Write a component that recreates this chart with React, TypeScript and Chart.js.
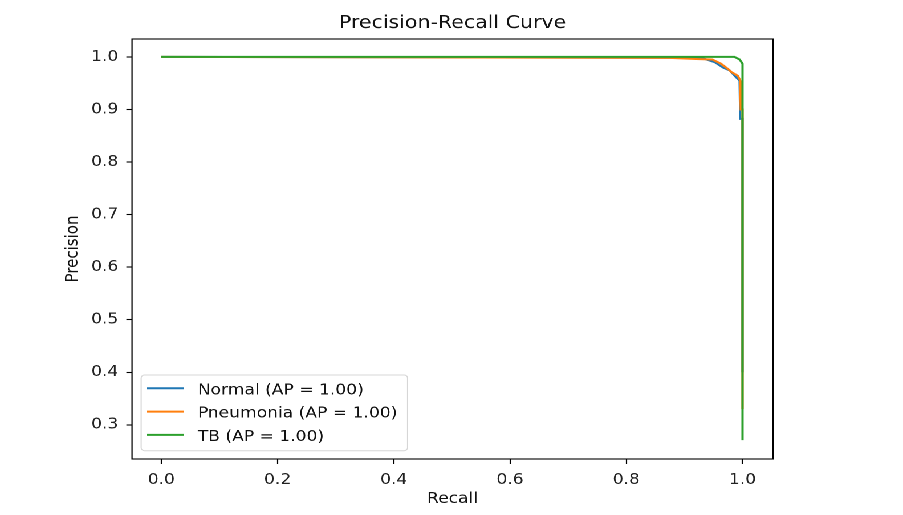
import React, { useRef, useEffect } from 'react';
import { Chart, registerables } from 'chart.js';

Chart.register(...registerables);

// the reference picture is a bit wider than tall in its text, so the chart is drawn
// on a narrower canvas and stretched back out to 903px
const STRETCH = 903 / 792;
const FONT = '"DejaVu Sans", sans-serif';

const chartTitle = 'Precision-Recall Curve';
const xTitle = 'Recall';
const yTitle = 'Precision';

const seriesNames = ['Normal (AP = 1.00)', 'Pneumonia (AP = 1.00)', 'TB (AP = 1.00)'];
const seriesColors = ['#1f77b4', '#ff7f0e', '#2ca02c'];

const normalRecall = [0, 0.93, 0.952, 0.966, 0.978, 0.989, 0.995, 0.996, 1.0, 1.0];
const normalPrecision = [1.0, 0.998, 0.99, 0.98, 0.974, 0.961, 0.955, 0.882, 0.882, 0.4];

const pneumoniaRecall = [0, 0.875, 0.92, 0.948, 0.963, 0.975, 0.981, 0.992, 0.996, 0.997, 1.0, 1.0];
const pneumoniaPrecision = [1.0, 0.998, 0.996, 0.995, 0.987, 0.977, 0.971, 0.964, 0.955, 0.9, 0.9, 0.33];

const tbRecall = [0, 0.986, 0.995, 1.0, 1.0];
const tbPrecision = [1.0, 1.0, 0.995, 0.987, 0.271];

const xTicks = [0, 0.2, 0.4, 0.6, 0.8, 1.0];
const yTicks = [0.3, 0.4, 0.5, 0.6, 0.7, 0.8, 0.9, 1.0];

const toPoints = (xs: number[], ys: number[]) => xs.map((x, i) => ({ x, y: ys[i] }));

const seriesPoints = [
  toPoints(normalRecall, normalPrecision),
  toPoints(pneumoniaRecall, pneumoniaPrecision),
  toPoints(tbRecall, tbPrecision),
];

// title, axes box and the legend in the lower left, drawn the matplotlib way
const framePlugin = {
  id: 'frame',
  afterDraw(chart: any) {
    const { ctx, chartArea: a } = chart;
    ctx.save();

    ctx.fillStyle = '#111';
    ctx.font = `18px ${FONT}`;
    ctx.textAlign = 'center';
    ctx.textBaseline = 'alphabetic';
    ctx.fillText(chartTitle, (a.left + a.right) / 2, 28);

    ctx.strokeStyle = '#000';
    ctx.lineWidth = 1.1;
    ctx.strokeRect(a.left, a.top, a.right - a.left, a.bottom - a.top);

    ctx.font = `15px ${FONT}`;
    const maxW = Math.max(...seriesNames.map((n) => ctx.measureText(n).width));
    const boxLeft = a.left + 8;
    const boxBottom = a.bottom - 8.3;
    const boxTop = boxBottom - 75.7;
    const textX = boxLeft + 49.7;
    const boxW = textX - boxLeft + maxW + 9;

    ctx.beginPath();
    ctx.roundRect(boxLeft, boxTop, boxW, boxBottom - boxTop, 3);
    ctx.fillStyle = 'rgba(255,255,255,0.8)';
    ctx.fill();
    ctx.strokeStyle = '#d6d6d6';
    ctx.lineWidth = 1;
    ctx.stroke();

    seriesNames.forEach((name, i) => {
      const rowY = boxTop + 13.3 + i * 23.3;
      ctx.beginPath();
      ctx.moveTo(boxLeft + 5, rowY);
      ctx.lineTo(boxLeft + 37.7, rowY);
      ctx.strokeStyle = seriesColors[i];
      ctx.lineWidth = 2;
      ctx.stroke();

      ctx.fillStyle = '#111';
      ctx.textAlign = 'left';
      ctx.textBaseline = 'alphabetic';
      ctx.fillText(name, textX, rowY + 6);
    });

    ctx.restore();
  },
};

function PrecisionRecallChart() {
  const chartRef = useRef<HTMLCanvasElement>(null);
  const chartInstance = useRef<Chart | null>(null);

  useEffect(() => {
    const ctx = chartRef.current!.getContext('2d')!;

    if (chartInstance.current) {
      chartInstance.current.destroy();
    }

    chartInstance.current = new Chart(ctx, {
      type: 'scatter',
      data: {
        datasets: seriesNames.map((name, i) => ({
          label: name,
          data: seriesPoints[i],
          showLine: true,
          borderColor: seriesColors[i],
          backgroundColor: seriesColors[i],
          borderWidth: 2,
          pointRadius: 0,
          tension: 0,
          fill: false,
          // later series sit on top, as in the picture
          order: seriesNames.length - i,
        })),
      },
      options: {
        animation: false,
        responsive: true,
        maintainAspectRatio: false,
        devicePixelRatio: 2,
        events: [],
        layout: {
          padding: { top: 39, right: 114, bottom: 0, left: 0 },
        },
        plugins: {
          legend: { display: false },
          tooltip: { enabled: false },
          title: { display: false },
        },
        scales: {
          x: {
            type: 'linear',
            min: -0.0505,
            max: 1.0525,
            afterBuildTicks: (scale: any) => {
              scale.ticks = xTicks.map((value) => ({ value }));
            },
            afterFit: (scale: any) => {
              scale.height = 56;
            },
            ticks: {
              callback: (v: any) => Number(v).toFixed(1),
              font: { family: FONT, size: 15 },
              color: '#222',
              padding: 7,
              maxRotation: 0,
            },
            grid: {
              drawOnChartArea: false,
              drawTicks: true,
              tickLength: 5,
              tickColor: '#000',
              tickWidth: 1.1,
            },
            border: { display: false },
            title: {
              display: true,
              text: xTitle,
              font: { family: FONT, size: 15 },
              color: '#111',
              padding: { top: 0, bottom: 7 },
            },
          },
          y: {
            type: 'linear',
            min: 0.235,
            max: 1.034,
            afterBuildTicks: (scale: any) => {
              scale.ticks = yTicks.map((value) => ({ value }));
            },
            afterFit: (scale: any) => {
              scale.width = 115.8;
            },
            ticks: {
              callback: (v: any) => Number(v).toFixed(1),
              font: { family: FONT, size: 15 },
              color: '#222',
              padding: 7,
            },
            grid: {
              drawOnChartArea: false,
              drawTicks: true,
              tickLength: 5,
              tickColor: '#000',
              tickWidth: 1.1,
            },
            border: { display: false },
            title: {
              display: true,
              text: yTitle,
              font: { family: FONT, size: 15 },
              color: '#111',
              padding: { top: 55, bottom: 0 },
            },
          },
        },
      },
      plugins: [framePlugin],
    } as any);

    return () => {
      if (chartInstance.current) {
        chartInstance.current.destroy();
        chartInstance.current = null;
      }
    };
  }, []);

  return (
    <div
      style={{
        position: 'absolute',
        left: 0,
        top: 0,
        width: 792,
        height: 515,
        background: '#fff',
        transform: `scaleX(${STRETCH})`,
        transformOrigin: '0 0',
      }}
    >
      <canvas ref={chartRef}></canvas>
    </div>
  );
}

export default function App() {
  return <PrecisionRecallChart />;
}
